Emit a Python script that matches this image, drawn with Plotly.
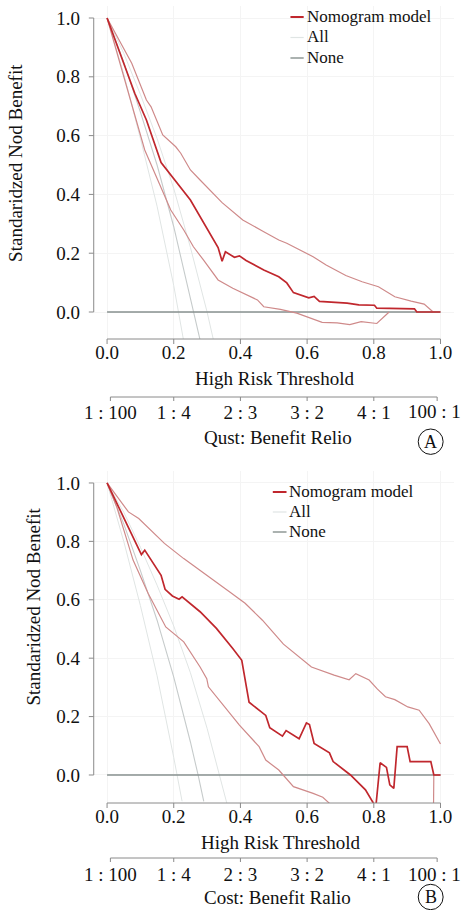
import plotly.graph_objects as go

W, H = 465, 910

# ---------------- data: panel A ----------------
A_model_x = [0, 0.083, 0.118, 0.162, 0.25, 0.333, 0.345, 0.355, 0.382, 0.397, 0.417, 0.47, 0.515,
             0.539, 0.559, 0.605, 0.621, 0.637, 0.72, 0.755, 0.802, 0.809, 0.922, 0.929, 1.0]
A_model_y = [1.0, 0.744, 0.653, 0.508, 0.381, 0.219, 0.173, 0.205, 0.186, 0.191, 0.175, 0.143, 0.12,
             0.099, 0.066, 0.048, 0.053, 0.036, 0.030, 0.024, 0.023, 0.013, 0.011, 0.0, 0.0]
A_upper_x = [0, 0.074, 0.118, 0.132, 0.167, 0.206, 0.221, 0.25, 0.279, 0.345, 0.407, 0.441, 0.47,
             0.515, 0.539, 0.618, 0.657, 0.716, 0.765, 0.814, 0.863, 0.912, 0.951, 0.978]
A_upper_y = [1.0, 0.846, 0.721, 0.698, 0.602, 0.562, 0.54, 0.483, 0.449, 0.372, 0.313, 0.29, 0.273,
             0.245, 0.234, 0.188, 0.16, 0.124, 0.103, 0.086, 0.052, 0.037, 0.027, 0.0]
A_lower_x = [0, 0.035, 0.071, 0.113, 0.152, 0.191, 0.23, 0.259, 0.289, 0.333, 0.377, 0.417, 0.451,
             0.47, 0.52, 0.569, 0.608, 0.645, 0.69, 0.728, 0.762, 0.809, 0.846]
A_lower_y = [1.0, 0.86, 0.721, 0.551, 0.449, 0.347, 0.279, 0.222, 0.177, 0.109, 0.081, 0.058, 0.041,
             0.018, 0.009, -0.004, -0.019, -0.035, -0.037, -0.043, -0.033, -0.039, 0.0]
A_all_x = [0, 0.05, 0.10, 0.15, 0.20, 0.26, 0.28]
A_all_y = [1.0, 0.85, 0.68, 0.50, 0.29, 0.0, -0.10]
A_all_lo_x = [0, 0.05, 0.10, 0.15, 0.20, 0.215, 0.23]
A_all_lo_y = [1.0, 0.81, 0.59, 0.36, 0.09, 0.0, -0.10]
A_all_hi_x = [0, 0.05, 0.10, 0.15, 0.20, 0.25, 0.30, 0.32]
A_all_hi_y = [1.0, 0.88, 0.74, 0.59, 0.42, 0.22, 0.0, -0.10]

# ---------------- data: panel B ----------------
B_model_x = [0, 0.103, 0.113, 0.162, 0.174, 0.196, 0.216, 0.225, 0.279, 0.328, 0.377, 0.404, 0.426,
             0.476, 0.488, 0.526, 0.537, 0.576, 0.598, 0.607, 0.621, 0.667, 0.678, 0.73, 0.775,
             0.806, 0.819, 0.838, 0.848, 0.86, 0.87, 0.9, 0.909, 0.971, 0.98, 1.0]
B_model_y = [1.0, 0.755, 0.77, 0.684, 0.636, 0.613, 0.602, 0.61, 0.559, 0.502, 0.433, 0.393, 0.249,
             0.204, 0.162, 0.133, 0.152, 0.124, 0.178, 0.173, 0.108, 0.076, 0.046, 0.0, -0.051,
             -0.11, 0.042, 0.026, -0.034, -0.046, 0.097, 0.097, 0.046, 0.046, 0.0, 0.0]
B_upper_x = [0, 0.064, 0.095, 0.172, 0.23, 0.297, 0.368, 0.414, 0.466, 0.529, 0.613, 0.681, 0.726,
             0.746, 0.786, 0.811, 0.835, 0.863, 0.902, 0.936, 0.966, 1.0]
B_upper_y = [1.0, 0.901, 0.878, 0.793, 0.741, 0.687, 0.627, 0.588, 0.53, 0.448, 0.37, 0.342, 0.326,
             0.347, 0.325, 0.294, 0.268, 0.258, 0.233, 0.222, 0.176, 0.106]
B_lower_x = [0, 0.029, 0.078, 0.123, 0.176, 0.23, 0.279, 0.299, 0.304, 0.348, 0.397, 0.456, 0.476,
             0.515, 0.559, 0.618, 0.647, 0.667, 0.72, 0.8, 0.9, 0.975, 0.98, 1.0]
B_lower_y = [1.0, 0.918, 0.736, 0.622, 0.507, 0.456, 0.37, 0.33, 0.302, 0.239, 0.171, 0.097, 0.051,
             0.017, -0.04, -0.063, -0.076, -0.097, -0.2, -0.35, -0.5, -0.6, 0.0, 0.0]
B_all_x = [0, 0.05, 0.10, 0.15, 0.20, 0.25, 0.273, 0.29]
B_all_y = [1.0, 0.86, 0.70, 0.53, 0.335, 0.113, 0.0, -0.09]
B_all_lo_x = [0, 0.05, 0.10, 0.15, 0.20, 0.21, 0.225]
B_all_lo_y = [1.0, 0.80, 0.58, 0.34, 0.06, 0.0, -0.09]
B_all_hi_x = [0, 0.05, 0.10, 0.15, 0.20, 0.25, 0.30, 0.338, 0.36]
B_all_hi_y = [1.0, 0.90, 0.78, 0.65, 0.51, 0.35, 0.16, 0.0, -0.10]

thr_x = [0, 1]
none_y = [0, 0]

x_ticks = [0, 0.2, 0.4, 0.6, 0.8, 1.0]
x_ticktext = ["0.0", "0.2", "0.4", "0.6", "0.8", "1.0"]
y_ticks = [0, 0.2, 0.4, 0.6, 0.8, 1.0]
y_ticktext = ["0.0", "0.2", "0.4", "0.6", "0.8", "1.0"]
cb_ticks = [0.01, 0.2, 0.4, 0.6, 0.8, 0.99]
cb_ticktext = ["1 : 100", "1 : 4", "2 : 3", "3 : 2", "4 : 1", ""]
cb_last_label = "100 : 1"

legend_names = ["Nomogram model", "All", "None"]

# ---------------- style ----------------
FONT = "Liberation Serif"
C_MODEL = "#c0272d"
C_CI = "#cf8a8a"
C_ALL = "#c6cbcb"
C_ALL_CI = "#e0e5e4"
C_NONE = "#87918f"
C_AXIS = "#8a8a8a"
X_LEFT = 86.4


def px_x(p):
    return p / W


def px_y(p):
    return 1 - p / H


fig = go.Figure()


def add_panel(xa, ya, model, upper, lower, allc, alllo, allhi):
    for (xx, yy), col, wd in [(alllo, C_ALL_CI, 1), (allhi, C_ALL_CI, 1), (allc, C_ALL, 1.1)]:
        fig.add_trace(go.Scatter(x=xx, y=yy, mode="lines", line=dict(color=col, width=wd),
                                 xaxis=xa, yaxis=ya, showlegend=False, hoverinfo="skip"))
    fig.add_trace(go.Scatter(x=thr_x, y=none_y, mode="lines", line=dict(color=C_NONE, width=1.4),
                             xaxis=xa, yaxis=ya, showlegend=False, hoverinfo="skip"))
    for (xx, yy) in [upper, lower]:
        fig.add_trace(go.Scatter(x=xx, y=yy, mode="lines", line=dict(color=C_CI, width=1.2),
                                 xaxis=xa, yaxis=ya, showlegend=False, hoverinfo="skip"))
    fig.add_trace(go.Scatter(x=model[0], y=model[1], mode="lines", line=dict(color=C_MODEL, width=1.7),
                             xaxis=xa, yaxis=ya, showlegend=False, hoverinfo="skip"))


add_panel("x", "y", (A_model_x, A_model_y), (A_upper_x, A_upper_y), (A_lower_x, A_lower_y),
          (A_all_x, A_all_y), (A_all_lo_x, A_all_lo_y), (A_all_hi_x, A_all_hi_y))
add_panel("x2", "y2", (B_model_x, B_model_y), (B_upper_x, B_upper_y), (B_lower_x, B_lower_y),
          (B_all_x, B_all_y), (B_all_lo_x, B_all_lo_y), (B_all_hi_x, B_all_hi_y))

# invisible traces to activate cost:benefit axes
fig.add_trace(go.Scatter(x=[0.5], y=[0.5], mode="markers", marker=dict(opacity=0), xaxis="x3", yaxis="y",
                         showlegend=False, hoverinfo="skip"))
fig.add_trace(go.Scatter(x=[0.5], y=[0.5], mode="markers", marker=dict(opacity=0), xaxis="x4", yaxis="y2",
                         showlegend=False, hoverinfo="skip"))

xdom = [px_x(X_LEFT), px_x(453.6)]
xrange = [-0.04, 1.04]

common_x = dict(domain=xdom, range=xrange, tickvals=x_ticks, ticktext=x_ticktext, ticks="",
                showline=False, zeroline=False,
                showgrid=True, gridcolor="#f4f4f4", gridwidth=1,
                tickfont=dict(family=FONT, size=19, color="#111"))
# transparent long ticks push labels left; visible short ticks are drawn as shapes
common_y = dict(tickvals=y_ticks, ticktext=y_ticktext, ticks="outside", ticklen=9,
                tickcolor="rgba(0,0,0,0)", tickwidth=1, showline=False, zeroline=False,
                showgrid=True, gridcolor="#f4f4f4",
                gridwidth=1, tickfont=dict(family=FONT, size=19, color="#111"))
common_cb = dict(range=xrange, tickvals=cb_ticks, ticktext=cb_ticktext, ticks="",
                 showline=False, zeroline=False, showgrid=False,
                 anchor="free", side="bottom",
                 tickfont=dict(family=FONT, size=19, color="#111"))

fig.update_layout(
    width=W, height=H, margin=dict(l=0, r=0, t=0, b=0),
    paper_bgcolor="white", plot_bgcolor="white", showlegend=False,
    xaxis=dict(anchor="y", **common_x),
    yaxis=dict(anchor="x", domain=[px_y(339), px_y(5.65)], range=[-0.0918, 1.042], **common_y),
    xaxis2=dict(anchor="y2", **common_x),
    yaxis2=dict(anchor="x2", domain=[px_y(803), px_y(470.7)], range=[-0.0959, 1.042], **common_y),
    xaxis3=dict(overlaying="x", position=px_y(399), **common_cb),
    xaxis4=dict(overlaying="x2", position=px_y(861), **common_cb),
)

shapes = []
annotations = []

# axis lines and ticks (R style)
for xa, ya, pyb in [("x", "y", 339), ("x2", "y2", 803)]:
    shapes.append(dict(type="line", xref=f"{xa} domain", yref=ya, x0=0, x1=0, y0=0, y1=1,
                       line=dict(color=C_AXIS, width=1)))
    shapes.append(dict(type="line", xref=xa, yref=f"{ya} domain", x0=0, x1=1, y0=0, y1=0,
                       line=dict(color=C_AXIS, width=1)))
    for t in x_ticks:
        shapes.append(dict(type="line", xref=xa, yref="paper", x0=t, x1=t, y0=px_y(pyb), y1=px_y(pyb + 5),
                           line=dict(color=C_AXIS, width=1)))
    for t in y_ticks:
        shapes.append(dict(type="line", xref="paper", yref=ya, x0=px_x(X_LEFT - 5), x1=px_x(X_LEFT),
                           y0=t, y1=t, line=dict(color=C_AXIS, width=1)))
for xa, pyl in [("x", 397), ("x2", 858)]:
    shapes.append(dict(type="line", xref=xa, yref="paper", x0=cb_ticks[0], x1=cb_ticks[-1],
                       y0=px_y(pyl), y1=px_y(pyl), line=dict(color=C_AXIS, width=1)))
    for t in cb_ticks:
        shapes.append(dict(type="line", xref=xa, yref="paper", x0=t, x1=t, y0=px_y(pyl), y1=px_y(pyl + 4),
                           line=dict(color=C_AXIS, width=1)))


def text(s, x, y, size=19, angle=0, xanchor="center"):
    annotations.append(dict(text=s, x=px_x(x), y=px_y(y), xref="paper", yref="paper", showarrow=False,
                            xanchor=xanchor, yanchor="middle", textangle=angle,
                            font=dict(family=FONT, size=size, color="#111")))


# last cost:benefit label (kept inside the page)
text(cb_last_label, 463, 412, xanchor="right")
text(cb_last_label, 463, 874, xanchor="right")

# titles
text("High Risk Threshold", 271, 378)
text("Qust: Benefit Relio", 274, 437)
text("Standaridzed Nod Benefit", 6, 163, angle=-90)
text("High Risk Threshold", 277, 842)
text("Cost: Benefit Ralio", 274, 897)
text("Standaridzed Nod Benefit", 24, 607, angle=-90)

# manual legends
leg_styles = [(C_MODEL, 2), (C_ALL_CI, 1.2), (C_NONE, 1.4)]
for (lx0, lx1, tx, rows) in [(287, 300.5, 302, [17, 37.5, 58]), (269, 283, 283, [492, 512, 532])]:
    for name, (col, wd), ry in zip(legend_names, leg_styles, rows):
        shapes.append(dict(type="line", xref="paper", yref="paper", x0=px_x(lx0), x1=px_x(lx1),
                           y0=px_y(ry), y1=px_y(ry), line=dict(color=col, width=wd)))
        text(name, tx, ry - 1, size=17, xanchor="left")

# panel labels
for lab, cx, cy in [("A", 430, 441.7), ("B", 430, 897)]:
    r = 12.7
    shapes.append(dict(type="circle", xref="paper", yref="paper", x0=px_x(cx - r), x1=px_x(cx + r),
                       y0=px_y(cy + r), y1=px_y(cy - r), line=dict(color="#111", width=1)))
    text(lab, cx, cy, size=18)

fig.update_layout(shapes=shapes, annotations=annotations)
fig.write_html("out.html")
